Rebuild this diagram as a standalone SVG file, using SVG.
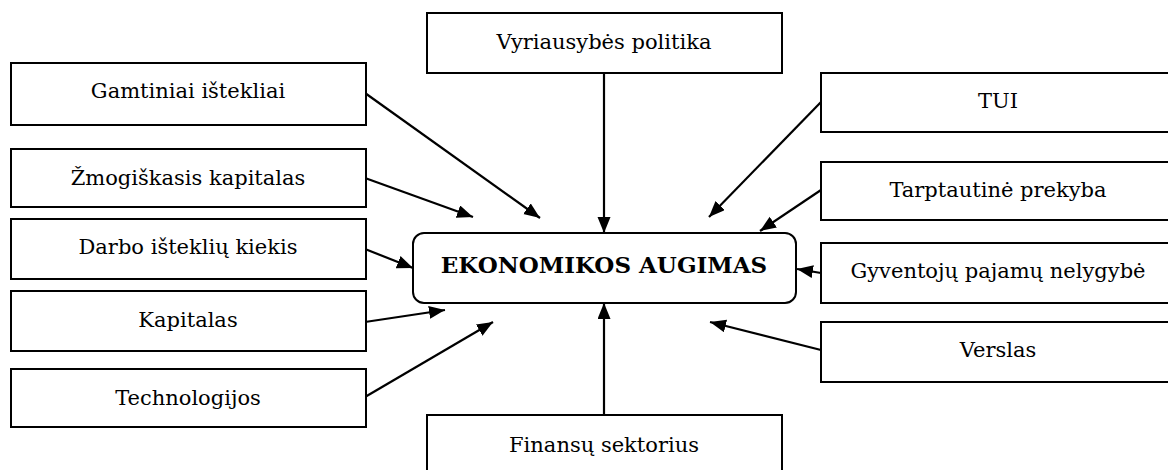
<svg xmlns="http://www.w3.org/2000/svg" width="1168" height="470" viewBox="0 0 1168 470">
<style>
.box{fill:#fff;stroke:#000;stroke-width:2}
.t{font-family:'DejaVu Serif','Liberation Serif',serif;font-size:21px;fill:#000;text-anchor:middle}
.b{font-weight:bold;font-size:23px}
.c{stroke:#000;stroke-width:2.2;fill:none;marker-end:url(#ah)}
</style>
<defs>
<marker id="ah" markerUnits="userSpaceOnUse" markerWidth="18" markerHeight="14" refX="16" refY="6.5" orient="auto">
<path d="M0,0 L16,6.5 L0,13 z" fill="#000"/>
</marker>
</defs>
<rect width="1168" height="470" fill="#fff"/>
<g id="connectors">
<line class="c" x1="365" y1="93" x2="540" y2="218"/>
<line class="c" x1="365" y1="178" x2="473" y2="217"/>
<line class="c" x1="365" y1="249" x2="413" y2="268"/>
<line class="c" x1="365" y1="322" x2="445" y2="310"/>
<line class="c" x1="365" y1="397" x2="493" y2="322"/>
<line class="c" x1="604" y1="73" x2="604" y2="233"/>
<line class="c" x1="821" y1="102" x2="709" y2="217"/>
<line class="c" x1="821" y1="190" x2="760" y2="231"/>
<line class="c" x1="821" y1="273" x2="797" y2="269"/>
<line class="c" x1="821" y1="350" x2="710" y2="322"/>
<line class="c" x1="604" y1="415" x2="604" y2="303"/>
</g>
<g id="center">
<rect class="box" x="413" y="233" width="383" height="70" rx="11"/>
<text class="t b" x="604" y="273">EKONOMIKOS AUGIMAS</text>
</g>
<g id="vyriausybes">
<rect class="box" x="427" y="13" width="355" height="60"/>
<text class="t" x="604" y="49">Vyriausybės politika</text>
</g>
<g id="gamtiniai">
<rect class="box" x="11" y="63" width="355" height="62"/>
<text class="t" x="188" y="98">Gamtiniai ištekliai</text>
</g>
<g id="zmogiskasis">
<rect class="box" x="11" y="149" width="355" height="58"/>
<text class="t" x="188" y="185">Žmogiškasis kapitalas</text>
</g>
<g id="darbo">
<rect class="box" x="11" y="219" width="355" height="60"/>
<text class="t" x="188" y="254">Darbo išteklių kiekis</text>
</g>
<g id="kapitalas">
<rect class="box" x="11" y="291" width="355" height="60"/>
<text class="t" x="188" y="327">Kapitalas</text>
</g>
<g id="technologijos">
<rect class="box" x="11" y="369" width="355" height="58"/>
<text class="t" x="188" y="405">Technologijos</text>
</g>
<g id="tui">
<rect class="box" x="821" y="73" width="355" height="59"/>
<text class="t" x="998" y="108">TUI</text>
</g>
<g id="tarptautine">
<rect class="box" x="821" y="162" width="355" height="58"/>
<text class="t" x="998" y="197">Tarptautinė prekyba</text>
</g>
<g id="gyventoju">
<rect class="box" x="821" y="243" width="355" height="60"/>
<text class="t" x="998" y="278">Gyventojų pajamų nelygybė</text>
</g>
<g id="verslas">
<rect class="box" x="821" y="322" width="355" height="60"/>
<text class="t" x="998" y="357">Verslas</text>
</g>
<g id="finansu">
<rect class="box" x="427" y="415" width="355" height="62"/>
<text class="t" x="604" y="452">Finansų sektorius</text>
</g>
</svg>
